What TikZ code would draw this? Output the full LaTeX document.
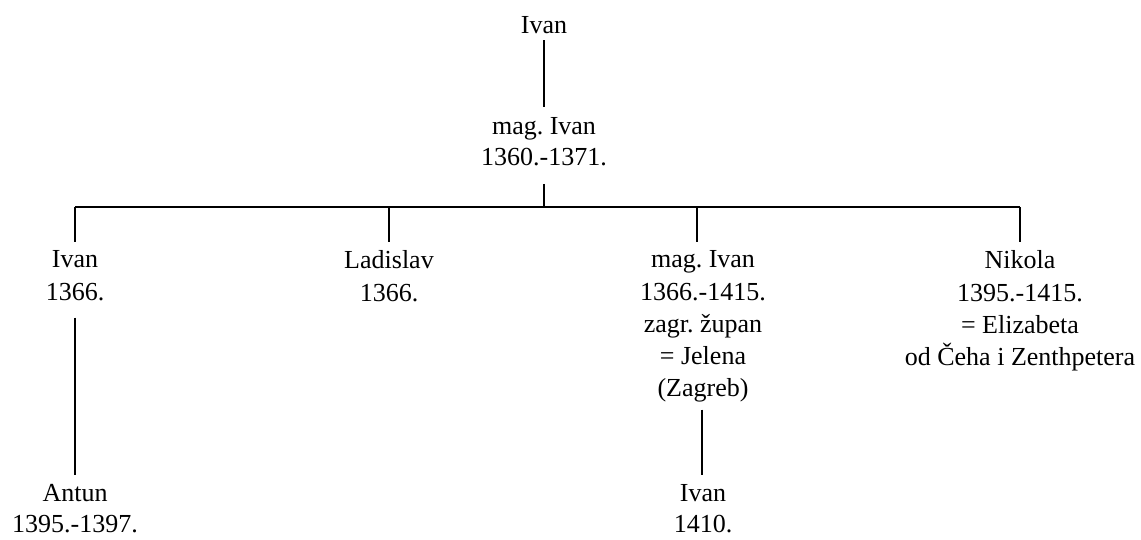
\documentclass[tikz,border=0pt]{standalone}
\usepackage{fontspec}
\setmainfont{Liberation Serif}
\frenchspacing
\begin{document}
\begin{tikzpicture}[x=1pt,y=-1pt,
  person/.style={anchor=north,inner sep=0pt,align=center,font=\fontsize{26}{31}\selectfont\frenchspacing},
  wide/.style={person,font=\fontsize{26}{32.3}\selectfont\frenchspacing},
  link/.style={line width=1.6pt}]
\useasboundingbox (0,0) rectangle (1141,539);
\node[person] (top) at (544,16.5) {Ivan};
\node[person] (mag) at (544,117) {mag. Ivan\\1360.-1371.};
\node[wide] (c1) at (75,250.5) {Ivan\\1366.};
\node[wide] (c2) at (389,250.5) {Ladislav\\1366.};
\node[wide] (c3) at (703,250.5) {mag. Ivan\\1366.-1415.\\zagr. župan\\= Jelena\\(Zagreb)};
\node[wide] (c4) at (1020,250.5) {Nikola\\1395.-1415.\\= Elizabeta\\od Čeha i Zenthpetera};
\node[person] (d1) at (75,484.5) {Antun\\1395.-1397.};
\node[person] (d2) at (703,484.5) {Ivan\\1410.};
\coordinate (bar) at (544,207);
\coordinate (barL) at (75,207);
\coordinate (barR) at (1020,207);
\draw[link] ([yshift=-6pt]top.south) -- ([yshift=10pt]mag.north);
\draw[link] ([yshift=-18pt]mag.south) -- (bar);
\draw[link] (barL) -- (barR);
\draw[link] (c1.north |- bar) -- ([yshift=8.5pt]c1.north);
\draw[link] (c2.north |- bar) -- ([yshift=8.5pt]c2.north);
\draw[link] ([xshift=-6pt]c3.north |- bar) -- ([xshift=-6pt,yshift=8.5pt]c3.north);
\draw[link] (c4.north |- bar) -- ([yshift=8.5pt]c4.north);
\draw[link] ([yshift=-17pt]c1.south) -- ([yshift=10pt]d1.north);
\draw[link] ([xshift=-1pt,yshift=-7pt]c3.south) -- ([xshift=-1pt,yshift=10pt]d2.north);
\end{tikzpicture}
\end{document}
